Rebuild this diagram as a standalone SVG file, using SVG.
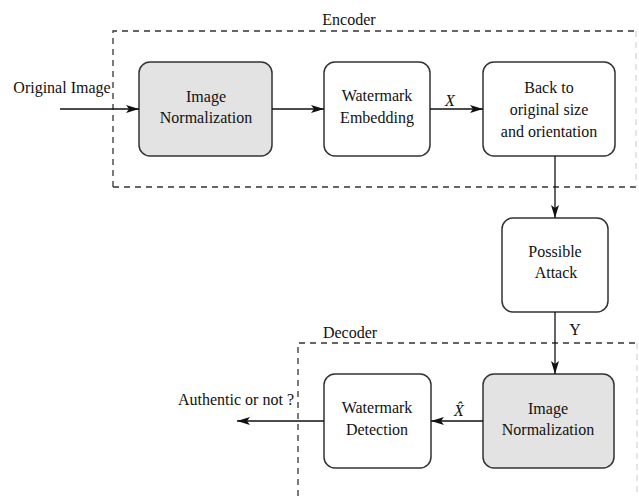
<svg xmlns="http://www.w3.org/2000/svg" width="639" height="496" viewBox="0 0 639 496">
<style>
text{font-family:'Liberation Serif','DejaVu Serif',serif;font-size:16px;fill:#111;text-anchor:middle}
.box{fill:#fff;stroke:#333;stroke-width:1.5}
.gray{fill:#e3e3e3}
.dash{fill:none;stroke:#333;stroke-width:1.3;stroke-dasharray:6,5}
.faint{fill:none;stroke:#ccc;stroke-width:1;stroke-dasharray:6,5}
.conn{fill:none;stroke:#111;stroke-width:1.3;marker-end:url(#ah)}
</style>
<defs>
<marker id="ah" markerUnits="userSpaceOnUse" markerWidth="14" markerHeight="10" refX="13" refY="4" orient="auto">
<path d="M0,0 L13,4 L0,8 L3,4 z" fill="#111"/>
</marker>
</defs>
<g id="encoder">
<path class="dash" d="M113,187 L113,31 L639,31"/>
<path class="dash" d="M113,187 L639,187"/>
<path class="faint" d="M636,31 L636,187"/>
<text x="349" y="25" font-family="Liberation Serif">Encoder</text>
</g>
<g id="decoder">
<path class="dash" d="M298,496 L298,343 L639,343"/>
<path class="faint" d="M637,343 L637,496"/>
<text x="350" y="338">Decoder</text>
</g>
<g id="original-image">
<text x="62" y="93">Original Image</text>
</g>
<g id="norm1">
<rect class="box gray" x="139" y="62" width="133" height="94" rx="11"/>
<text x="206" y="102">Image</text>
<text x="206" y="123">Normalization</text>
</g>
<g id="embed">
<rect class="box" x="324" y="62" width="106" height="94" rx="11"/>
<text x="377" y="101">Watermark</text>
<text x="377" y="123">Embedding</text>
</g>
<g id="back">
<rect class="box" x="483" y="62" width="132" height="94" rx="11"/>
<text x="549" y="93">Back to</text>
<text x="549" y="115">original size</text>
<text x="549" y="137">and orientation</text>
</g>
<g id="attack">
<rect class="box" x="502" y="218" width="106" height="94" rx="11"/>
<text x="555" y="257">Possible</text>
<text x="556" y="278">Attack</text>
</g>
<g id="norm2">
<rect class="box gray" x="483" y="374" width="131" height="94" rx="11"/>
<text x="548" y="414">Image</text>
<text x="548" y="435">Normalization</text>
</g>
<g id="detect">
<rect class="box" x="324" y="374" width="107" height="94" rx="11"/>
<text x="377" y="413">Watermark</text>
<text x="377" y="435">Detection</text>
</g>
<g id="authentic">
<text x="236" y="405">Authentic or not ?</text>
</g>
<g id="connectors">
<line class="conn" x1="60" y1="109" x2="139" y2="109"/>
<line class="conn" x1="272" y1="109" x2="324" y2="109"/>
<line class="conn" x1="430" y1="109" x2="483" y2="109"/>
<line class="conn" x1="555" y1="156" x2="555" y2="218"/>
<line class="conn" x1="555" y1="312" x2="555" y2="374"/>
<line class="conn" x1="483" y1="421" x2="431" y2="421"/>
<line class="conn" x1="324" y1="421" x2="237" y2="421"/>
<text x="450" y="106" font-style="italic">X</text>
<text x="575" y="335">Y</text>
<text x="459" y="416" font-style="italic">X&#x302;</text>
</g>
</svg>
